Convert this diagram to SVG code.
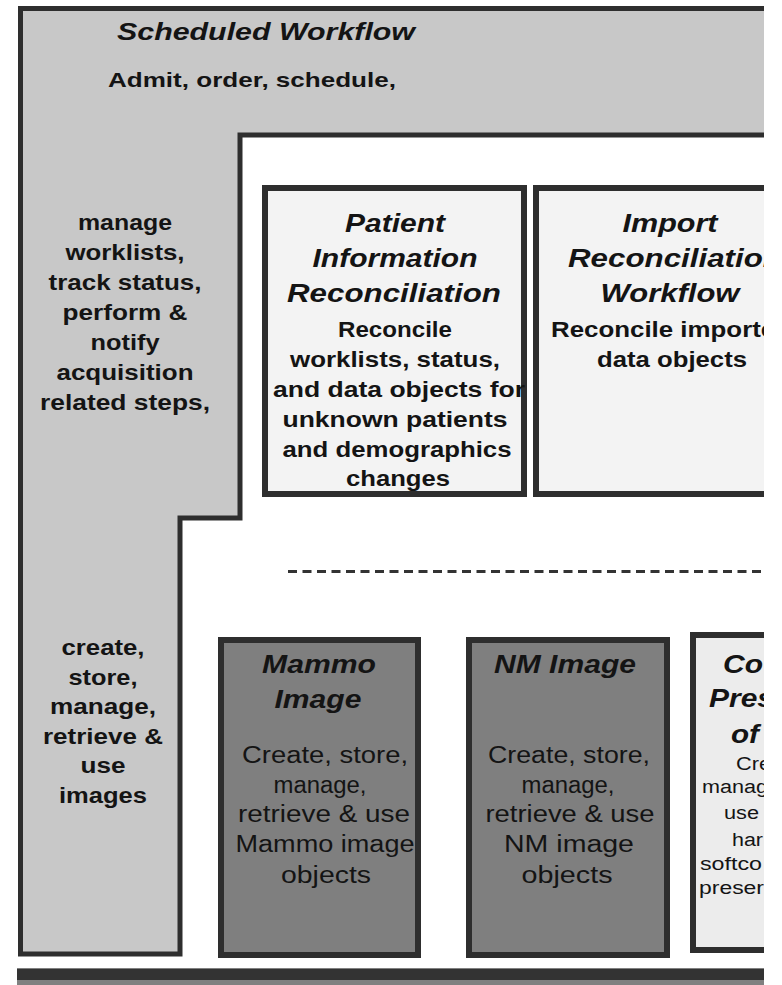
<svg xmlns="http://www.w3.org/2000/svg" width="782" height="985" viewBox="0 0 782 985">
<defs>
<style>
text{font-family:"Liberation Sans",Arial,sans-serif;fill:#141414;text-anchor:middle}
.bi{font-weight:bold;font-style:italic}
.b{font-weight:bold}
.r{font-weight:normal}
.st{text-anchor:start}
.box{stroke:#2e2e2e;stroke-width:6}
</style>
<clipPath id="cut"><rect x="0" y="0" width="764" height="985"/></clipPath>
</defs>
<rect width="782" height="985" fill="#ffffff"/>
<g clip-path="url(#cut)">
<g id="scheduled-workflow">
<path d="M20,8 H764 V135 H240 V518 H180 V954 H20 Z" fill="#c8c8c8"/>
<path d="M764,8.5 H20.5 V954 H180 V518 H240 V135 H764" fill="none" stroke="#2e2e2e" stroke-width="5"/>
<text class="bi" x="117" y="40" font-size="24" style="text-anchor:start" textLength="298" lengthAdjust="spacingAndGlyphs">Scheduled Workflow</text>
<text class="b" x="108" y="87" font-size="21" style="text-anchor:start" textLength="288" lengthAdjust="spacingAndGlyphs">Admit, order, schedule,</text>
<text class="b" x="125" y="230" font-size="22" textLength="94" lengthAdjust="spacingAndGlyphs">manage</text>
<text class="b" x="125" y="260" font-size="22" textLength="119" lengthAdjust="spacingAndGlyphs">worklists,</text>
<text class="b" x="125" y="290" font-size="22" textLength="153" lengthAdjust="spacingAndGlyphs">track status,</text>
<text class="b" x="125" y="320" font-size="22" textLength="125" lengthAdjust="spacingAndGlyphs">perform &amp;</text>
<text class="b" x="125" y="350" font-size="22" textLength="69" lengthAdjust="spacingAndGlyphs">notify</text>
<text class="b" x="125" y="380" font-size="22" textLength="137" lengthAdjust="spacingAndGlyphs">acquisition</text>
<text class="b" x="125" y="410" font-size="22" textLength="170" lengthAdjust="spacingAndGlyphs">related steps,</text>
<text class="b" x="103" y="655" font-size="22" textLength="83" lengthAdjust="spacingAndGlyphs">create,</text>
<text class="b" x="103" y="685" font-size="22" textLength="69" lengthAdjust="spacingAndGlyphs">store,</text>
<text class="b" x="103" y="714" font-size="22" textLength="106" lengthAdjust="spacingAndGlyphs">manage,</text>
<text class="b" x="103" y="744" font-size="22" textLength="120" lengthAdjust="spacingAndGlyphs">retrieve &amp;</text>
<text class="b" x="103" y="773" font-size="22" textLength="45" lengthAdjust="spacingAndGlyphs">use</text>
<text class="b" x="103" y="803" font-size="22" textLength="88" lengthAdjust="spacingAndGlyphs">images</text>
</g>
<g id="divider">
<line x1="288" y1="571.5" x2="764" y2="571.5" stroke="#333" stroke-width="3" stroke-dasharray="9 5.5"/>
</g>
<g id="connectors"></g>
<g id="patient-information-reconciliation">
<rect class="box" x="265" y="188" width="259" height="306" fill="#f3f3f3"/>
<text class="bi" x="395" y="232" font-size="26" textLength="100" lengthAdjust="spacingAndGlyphs">Patient</text>
<text class="bi" x="395" y="267" font-size="26" textLength="165" lengthAdjust="spacingAndGlyphs">Information</text>
<text class="bi" x="394" y="302" font-size="26" textLength="214" lengthAdjust="spacingAndGlyphs">Reconciliation</text>
<text class="b" x="395" y="337" font-size="22" textLength="114" lengthAdjust="spacingAndGlyphs">Reconcile</text>
<text class="b" x="395" y="367" font-size="22" textLength="210" lengthAdjust="spacingAndGlyphs">worklists, status,</text>
<text class="b" x="399" y="397" font-size="22" textLength="252" lengthAdjust="spacingAndGlyphs">and data objects for</text>
<text class="b" x="395" y="427" font-size="22" textLength="225" lengthAdjust="spacingAndGlyphs">unknown patients</text>
<text class="b" x="397" y="457" font-size="22" textLength="229" lengthAdjust="spacingAndGlyphs">and demographics</text>
<text class="b" x="398" y="486" font-size="22" textLength="104" lengthAdjust="spacingAndGlyphs">changes</text>
</g>
<g id="import-reconciliation-workflow">
<rect class="box" x="536" y="188" width="270" height="306" fill="#f3f3f3"/>
<text class="bi" x="670" y="232" font-size="26" textLength="95" lengthAdjust="spacingAndGlyphs">Import</text>
<text class="bi" x="675" y="267" font-size="26" textLength="214" lengthAdjust="spacingAndGlyphs">Reconciliation</text>
<text class="bi" x="670" y="302" font-size="26" textLength="139" lengthAdjust="spacingAndGlyphs">Workflow</text>
<text class="b" x="671" y="337" font-size="22" textLength="240" lengthAdjust="spacingAndGlyphs">Reconcile imported</text>
<text class="b" x="672" y="367" font-size="22" textLength="150" lengthAdjust="spacingAndGlyphs">data objects</text>
</g>
<g id="mammo-image">
<rect class="box" x="221" y="640" width="197" height="315" fill="#7f7f7f"/>
<text class="bi" x="319" y="673" font-size="25" textLength="114" lengthAdjust="spacingAndGlyphs">Mammo</text>
<text class="bi" x="318" y="708" font-size="25" textLength="87" lengthAdjust="spacingAndGlyphs">Image</text>
<text class="r" x="325" y="763" font-size="23" textLength="166" lengthAdjust="spacingAndGlyphs">Create, store,</text>
<text class="r" x="320" y="793" font-size="23" textLength="93" lengthAdjust="spacingAndGlyphs">manage,</text>
<text class="r" x="324" y="822" font-size="23" textLength="172" lengthAdjust="spacingAndGlyphs">retrieve &amp; use</text>
<text class="r" x="325" y="852" font-size="23" textLength="179" lengthAdjust="spacingAndGlyphs">Mammo image</text>
<text class="r" x="326" y="883" font-size="23" textLength="90" lengthAdjust="spacingAndGlyphs">objects</text>
</g>
<g id="nm-image">
<rect class="box" x="469" y="640" width="198" height="315" fill="#7f7f7f"/>
<text class="bi" x="565" y="673" font-size="25" textLength="142" lengthAdjust="spacingAndGlyphs">NM Image</text>
<text class="r" x="569" y="763" font-size="23" textLength="162" lengthAdjust="spacingAndGlyphs">Create, store,</text>
<text class="r" x="568" y="793" font-size="23" textLength="93" lengthAdjust="spacingAndGlyphs">manage,</text>
<text class="r" x="570" y="822" font-size="23" textLength="169" lengthAdjust="spacingAndGlyphs">retrieve &amp; use</text>
<text class="r" x="569" y="852" font-size="23" textLength="130" lengthAdjust="spacingAndGlyphs">NM image</text>
<text class="r" x="567" y="883" font-size="23" textLength="91" lengthAdjust="spacingAndGlyphs">objects</text>
</g>
<g id="consistent-presentation">
<rect class="box" x="693" y="635" width="150" height="315" fill="#ececec"/>
<text class="bi st" x="723" y="673" font-size="25" textLength="40" lengthAdjust="spacingAndGlyphs">Co</text>
<text class="bi st" x="709" y="707" font-size="25" textLength="65" lengthAdjust="spacingAndGlyphs">Pres</text>
<text class="bi st" x="731" y="743" font-size="25" textLength="28" lengthAdjust="spacingAndGlyphs">of</text>
<text class="r st" x="736" y="770" font-size="18" textLength="35" lengthAdjust="spacingAndGlyphs">Cre</text>
<text class="r st" x="702" y="793" font-size="18" textLength="66" lengthAdjust="spacingAndGlyphs">manag</text>
<text class="r st" x="724" y="819" font-size="18" textLength="35" lengthAdjust="spacingAndGlyphs">use</text>
<text class="r st" x="732" y="846" font-size="18" textLength="31" lengthAdjust="spacingAndGlyphs">har</text>
<text class="r st" x="700" y="870" font-size="18" textLength="62" lengthAdjust="spacingAndGlyphs">softco</text>
<text class="r st" x="699" y="894" font-size="18" textLength="65" lengthAdjust="spacingAndGlyphs">preser</text>
</g>
<g id="bottom-bar">
<rect x="17" y="968" width="747" height="17" fill="#808080"/>
<rect x="17" y="969" width="747" height="11" fill="#333333"/>
</g>
</g>
</svg>
